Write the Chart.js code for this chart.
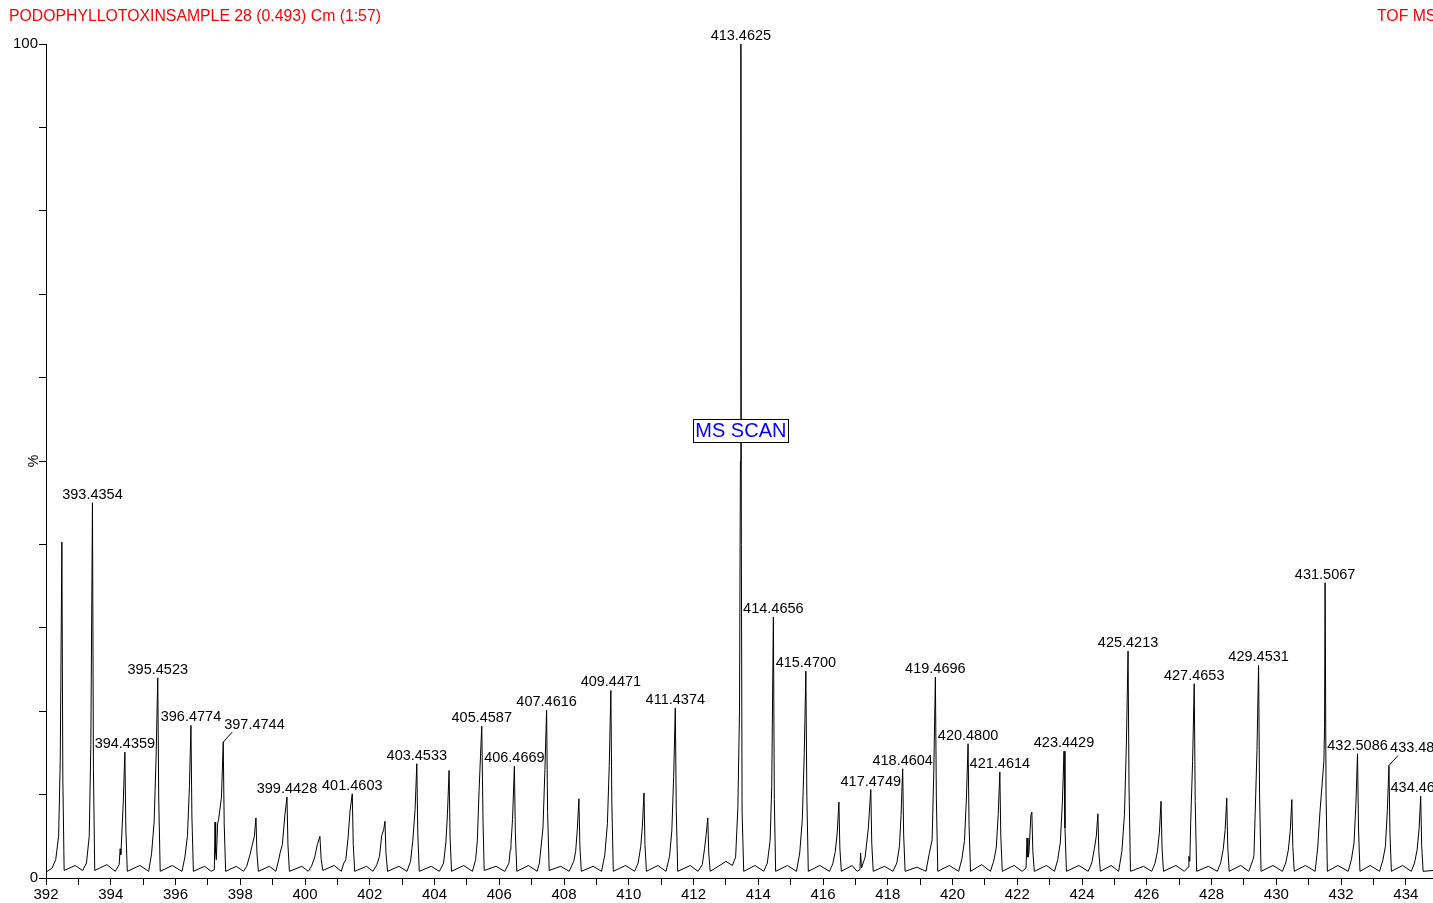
<!DOCTYPE html>
<html>
<head>
<meta charset="utf-8">
<script src="https://cdn.jsdelivr.net/npm/chart.js@4.4.1/dist/chart.umd.min.js"></script>
<style>
  html, body { margin: 0; padding: 0; background: #fff; }
  canvas { display: block; }
</style>
</head>
<body>
<canvas id="msChart" width="1433" height="903"></canvas>
<script>
// spectrum profile (m/z, % intensity)
const mz = [
  392.00, 392.19, 392.30, 392.39, 392.44, 392.49, 392.52, 392.56, 392.9,
  393.13, 393.25, 393.335, 393.385, 393.435, 393.465, 393.505, 393.88,
  394.14, 394.26, 394.29, 394.31, 394.33, 394.386, 394.436, 394.466, 394.511, 394.9,
  395.17, 395.26, 395.34, 395.40, 395.452, 395.482, 395.527, 395.9,
  396.2, 396.29, 396.37, 396.43, 396.477, 396.507, 396.552, 396.9,
  397.1, 397.2, 397.22, 397.24, 397.26, 397.3, 397.33, 397.42, 397.474, 397.504, 397.549, 397.88,
  398.1, 398.2, 398.3, 398.36, 398.435, 398.485, 398.515, 398.56, 398.9,
  399.1, 399.2, 399.23, 399.3, 399.38, 399.443, 399.473, 399.518, 399.9,
  400.1, 400.2, 400.3, 400.38, 400.46, 400.5, 400.55, 400.9,
  401.12, 401.2, 401.26, 401.33, 401.39, 401.46, 401.49, 401.535, 401.9,
  402.1, 402.22, 402.3, 402.37, 402.43, 402.47, 402.5, 402.55, 402.9,
  403.15, 403.26, 403.33, 403.4, 403.453, 403.483, 403.528, 403.9,
  404.15, 404.28, 404.35, 404.4, 404.45, 404.48, 404.525, 404.9,
  405.17, 405.27, 405.323, 405.376, 405.459, 405.499, 405.534, 405.9,
  406.17, 406.3, 406.34, 406.36, 406.41, 406.467, 406.497, 406.542, 406.9,
  407.17, 407.24, 407.35, 407.41, 407.462, 407.492, 407.542, 407.9,
  408.16, 408.3, 408.36, 408.41, 408.46, 408.49, 408.535, 408.9,
  409.16, 409.26, 409.34, 409.397, 409.447, 409.477, 409.522, 409.9,
  410.18, 410.29, 410.37, 410.42, 410.47, 410.5, 410.545, 410.9,
  411.15, 411.26, 411.33, 411.387, 411.437, 411.467, 411.512, 411.9,
  412.14, 412.27, 412.34, 412.39, 412.44, 412.47, 412.515, 412.85,
  413.0, 413.2, 413.3, 413.37, 413.42, 413.448, 413.4625, 413.477, 413.5, 413.55, 413.9,
  414.17, 414.28, 414.366, 414.416, 414.466, 414.496, 414.536, 414.9,
  415.18, 415.28, 415.36, 415.42, 415.47, 415.5, 415.545, 415.9,
  416.2, 416.3, 416.38, 416.44, 416.49, 416.52, 416.565, 416.9,
  417.05, 417.14, 417.16, 417.19, 417.3, 417.4, 417.475, 417.505, 417.55, 417.9,
  418.16, 418.28, 418.36, 418.41, 418.46, 418.49, 418.535, 418.9,
  419.18, 419.28, 419.37, 419.42, 419.47, 419.5, 419.545, 419.9,
  420.19, 420.29, 420.37, 420.43, 420.48, 420.51, 420.555, 420.9,
  421.17, 421.27, 421.35, 421.411, 421.461, 421.491, 421.536, 421.9,
  422.15, 422.27, 422.3, 422.33, 422.36, 422.42, 422.45, 422.48, 422.525, 422.9,
  423.15, 423.25, 423.33, 423.393, 423.443, 423.473, 423.518, 423.9,
  424.19, 424.3, 424.38, 424.44, 424.49, 424.52, 424.565, 424.9,
  425.13, 425.23, 425.31, 425.371, 425.421, 425.451, 425.496, 425.9,
  426.15, 426.25, 426.33, 426.39, 426.44, 426.47, 426.515, 426.9,
  427.16, 427.28, 427.3, 427.33, 427.355, 427.415, 427.465, 427.495, 427.54, 427.9,
  428.18, 428.28, 428.36, 428.42, 428.47, 428.5, 428.545, 428.9,
  429.15, 429.28, 429.31, 429.343, 429.403, 429.453, 429.483, 429.528, 429.9,
  430.19, 430.29, 430.37, 430.43, 430.48, 430.51, 430.555, 430.9,
  431.2, 431.28, 431.35, 431.41, 431.47, 431.49, 431.507, 431.537, 431.577, 431.9,
  432.22, 432.32, 432.4, 432.459, 432.509, 432.539, 432.584, 432.9,
  433.19, 433.29, 433.37, 433.43, 433.48, 433.51, 433.555, 433.9,
  434.17, 434.27, 434.35, 434.41, 434.46, 434.49, 434.535, 434.84
];
const intensity = [
  0.7, 1.2, 2.2, 5, 14, 40.3, 12, 0.9, 1.5,
  0.9, 1.8, 5, 16, 45, 13, 0.9, 1.6,
  0.8, 1.6, 3.5, 2.8, 4.2, 9, 15.1, 6, 0.8, 1.5,
  0.8, 2.9, 6.7, 14.4, 24, 9.6, 0.8, 1.5,
  0.8, 2.5, 5.1, 11, 18.3, 7.3, 0.8, 1.4,
  0.8, 1.0, 6.7, 3.0, 2.2, 6.5, 7.0, 9.7, 16.3, 6.5, 0.8, 1.4,
  0.8, 1.4, 2.8, 3.8, 5.0, 7.2, 3.0, 0.8, 1.4,
  0.8, 2.4, 3.0, 4.0, 7.6, 9.7, 4, 0.8, 1.4,
  0.8, 1.4, 2.5, 4.0, 5.0, 2.2, 0.9, 1.5,
  0.8, 1.8, 2.2, 4.8, 8.0, 10.1, 4, 0.8, 1.4,
  0.8, 1.6, 2.6, 5.1, 5.8, 6.8, 3, 0.8, 1.4,
  0.8, 2, 4.5, 8.2, 13.7, 5.5, 0.8, 1.4,
  0.8, 1.8, 4.2, 7.7, 12.9, 5, 0.8, 1.5,
  0.8, 2.2, 4.5, 10.5, 18.2, 6.6, 0.9, 1.4,
  0.8, 1.8, 3.4, 4.0, 7, 13.4, 5.4, 0.8, 1.5,
  0.8, 1.8, 6, 13, 20.1, 8, 0.9, 1.4,
  0.8, 2.0, 3.2, 5.8, 9.5, 3.8, 0.8, 1.4,
  0.8, 2.8, 6.5, 13.5, 22.5, 9, 0.8, 1.5,
  0.8, 1.8, 3.8, 6.2, 10.2, 4, 0.8, 1.5,
  0.8, 2.6, 5.7, 12.2, 20.4, 8, 0.8, 1.5,
  0.8, 1.6, 3.5, 5.2, 7.2, 3, 0.8, 1.6,
  2.0, 1.5, 2.5, 8.5, 20, 50, 100, 40, 8, 0.8, 1.5,
  0.8, 1.8, 4.5, 11, 31.3, 9.4, 0.8, 1.5,
  0.8, 3.0, 7, 14.9, 24.8, 9.9, 0.8, 1.5,
  0.8, 1.7, 3.2, 5.5, 9.1, 3.6, 0.8, 1.5,
  0.8, 1.0, 3.0, 1.2, 2.5, 6.0, 10.6, 4.2, 0.8, 1.4,
  0.8, 1.8, 3.8, 7.5, 13.1, 5.2, 0.8, 1.3,
  0.8, 2.9, 4.6, 12.6, 24.1, 9.6, 0.8, 1.5,
  0.8, 2.3, 4.5, 9.7, 16.1, 6.4, 0.8, 1.6,
  0.8, 2.0, 3.6, 7.6, 12.7, 5, 0.8, 1.5,
  0.8, 1.2, 4.8, 2.5, 3.0, 7.5, 7.9, 3.2, 0.8, 1.5,
  0.8, 2.2, 4.3, 9.1, 15.2, 6, 0.8, 1.5,
  0.8, 1.8, 3.5, 5.0, 7.7, 3, 0.8, 1.5,
  0.8, 3.2, 7.6, 16.3, 27.2, 10.9, 0.8, 1.4,
  0.8, 1.7, 3.2, 5.5, 9.2, 3.7, 0.8, 1.5,
  0.8, 1.3, 2.6, 2.0, 6.5, 14, 23.3, 9.3, 0.8, 1.4,
  0.8, 1.8, 3.4, 5.8, 9.6, 3.8, 0.8, 1.5,
  0.8, 2.2, 2.7, 7.1, 15.3, 25.5, 10.2, 0.8, 1.5,
  0.8, 1.8, 3.3, 5.6, 9.4, 3.8, 0.8, 1.5,
  0.8, 3.7, 8, 11, 14, 18, 35.4, 10, 0.8, 1.5,
  0.8, 2.2, 4.2, 8.9, 14.9, 6, 0.8, 1.5,
  0.8, 2.1, 3.8, 8.1, 13.5, 5.4, 0.8, 1.5,
  0.8, 1.8, 3.4, 5.9, 9.8, 3.9, 0.8, 0.9
];

// labelled peaks
const peakMz = [393.4354, 394.4359, 395.4523, 396.4774, 397.4744, 399.4428, 401.4603, 403.4533,
  405.4587, 406.4669, 407.4616, 409.4471, 411.4374, 413.4625, 414.4656, 415.4700, 417.4749,
  418.4604, 419.4696, 420.4800, 421.4614, 423.4429, 425.4213, 427.4653, 429.4531, 431.5067,
  432.5086, 433.4837, 434.4618];
const peakHeight = [45, 15.1, 24, 18.3, 16.3, 9.7, 10.1, 13.7,
  18.2, 13.4, 20.1, 22.5, 20.4, 100, 31.3, 24.8, 10.6,
  13.1, 24.1, 16.1, 12.7, 15.2, 27.2, 23.3, 25.5, 35.4,
  14.9, 13.5, 9.8];
const leaderPeaks = ['397.4744', '433.4837'];

const xTicks = [392, 394, 396, 398, 400, 402, 404, 406, 408, 410, 412, 414, 416, 418,
  420, 422, 424, 426, 428, 430, 432, 434];
const yTickLabels = [0, 100];

const titleText = 'PODOPHYLLOTOXINSAMPLE 28 (0.493) Cm (1:57)';
const modeText = 'TOF MS ES+';
const scanText = 'MS SCAN';

const FONT = 'Arial, "Liberation Sans", sans-serif';

const annotations = {
  id: 'annotations',
  afterDraw(chart) {
    const c = chart.ctx;
    const xs = chart.scales.x, ys = chart.scales.y;
    c.save();

    // header
    c.fillStyle = '#ff0000';
    c.font = '15.8px ' + FONT;
    c.textBaseline = 'middle';
    c.textAlign = 'left';
    c.fillText(titleText, 9, 17);
    c.fillText(modeText, 1377, 17);

    // % axis label
    c.fillStyle = '#000';
    c.font = '14px ' + FONT;
    c.save();
    c.translate(34, ys.getPixelForValue(50));
    c.rotate(-Math.PI / 2);
    c.textAlign = 'center';
    c.fillText('%', 0, 0);
    c.restore();

    // peak labels
    c.font = '14.5px ' + FONT;
    c.strokeStyle = '#000';
    c.lineWidth = 1;
    peakMz.forEach((m, i) => {
      const txt = m.toFixed(4);
      const px = xs.getPixelForValue(m);
      const py = ys.getPixelForValue(peakHeight[i]);
      if (leaderPeaks.includes(txt)) {
        c.beginPath();
        c.moveTo(px, py);
        c.lineTo(px + 9, py - 10);
        c.stroke();
        c.textAlign = 'left';
        c.textBaseline = 'middle';
        c.fillText(txt, px + 1, py - 17);
      } else {
        c.textAlign = 'center';
        c.textBaseline = 'middle';
        c.fillText(txt, px, py - 8);
      }
    });

    // MS SCAN box on the base peak
    const bx = xs.getPixelForValue(413.4625);
    const by = ys.getPixelForValue(53.7);
    c.font = '20px ' + FONT;
    const w = c.measureText(scanText).width + 4;
    c.fillStyle = '#fff';
    c.fillRect(Math.round(bx - w / 2) + 0.5, Math.round(by - 11.5) + 0.5, Math.round(w), 23);
    c.strokeRect(Math.round(bx - w / 2) + 0.5, Math.round(by - 11.5) + 0.5, Math.round(w), 23);
    c.fillStyle = '#0000ff';
    c.textAlign = 'center';
    c.textBaseline = 'middle';
    c.fillText(scanText, bx, by + 1);

    c.restore();
  }
};

new Chart(document.getElementById('msChart'), {
  type: 'line',
  data: {
    datasets: [{
      data: mz.map((x, i) => ({ x: x, y: intensity[i] })),
      borderColor: '#000',
      borderWidth: 1,
      pointRadius: 0,
      tension: 0,
      fill: false
    }]
  },
  options: {
    responsive: false,
    animation: false,
    devicePixelRatio: 1,
    layout: { padding: { top: 44, right: 0, bottom: 0, left: 0 } },
    plugins: {
      legend: { display: false },
      tooltip: { enabled: false }
    },
    scales: {
      x: {
        type: 'linear',
        min: 392,
        max: 434.84,
        afterFit: s => { s.height = 25; },
        border: { display: true, color: '#000', width: 1 },
        grid: { drawOnChartArea: false, drawTicks: true, tickLength: 7, color: '#000' },
        ticks: {
          stepSize: 1,
          includeBounds: false,
          autoSkip: false,
          maxRotation: 0,
          padding: 1,
          color: '#000',
          font: { family: FONT, size: 15 },
          callback: v => xTicks.includes(v) ? String(v) : ''
        }
      },
      y: {
        min: 0,
        max: 100,
        afterFit: s => { s.width = 46; },
        border: { display: true, color: '#000', width: 1 },
        grid: { drawOnChartArea: false, drawTicks: true, tickLength: 7, color: '#000' },
        ticks: {
          stepSize: 10,
          padding: 1,
          color: '#000',
          font: { family: FONT, size: 15 },
          callback: v => yTickLabels.includes(v) ? String(v) : ''
        }
      }
    }
  },
  plugins: [annotations]
});
</script>
</body>
</html>
